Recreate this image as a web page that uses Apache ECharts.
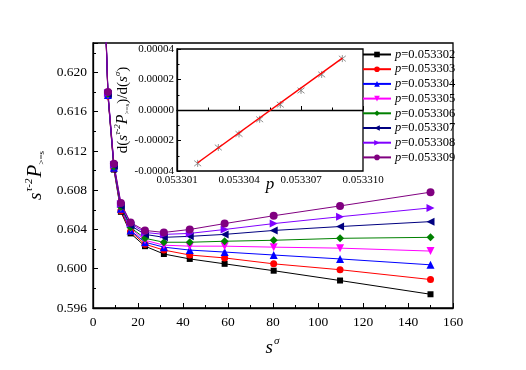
<!DOCTYPE html>
<html>
<head>
<meta charset="utf-8">
<script src="https://cdn.jsdelivr.net/npm/echarts@6/dist/echarts.min.js"></script>
<style>
  html, body { margin: 0; padding: 0; background: #fff; }
  #main { width: 526px; height: 370px; }
</style>
</head>
<body>
<div id="main"></div>
<script>
// s^sigma positions (first one is above the frame, gets clipped)
const sSigma = [4.9, 6.65, 9.3, 12.4, 16.7, 23.1, 31.5, 43.0, 58.5, 80.3, 109.8, 150.0]

// s^(tau-2) P(>=s) for each p
const y053302 = [0.6296, 0.6176, 0.6101, 0.6058, 0.6036, 0.6023, 0.6015, 0.6010, 0.6005, 0.5998, 0.5988, 0.5974]
const y053303 = [0.6297, 0.6176, 0.6102, 0.6059, 0.6038, 0.6025, 0.6019, 0.6014, 0.6011, 0.6005, 0.5999, 0.5989]
const y053304 = [0.6298, 0.6177, 0.6103, 0.6061, 0.6039, 0.6027, 0.6022, 0.6019, 0.6017, 0.6014, 0.6010, 0.6004]
const y053305 = [0.6298, 0.6177, 0.6104, 0.6062, 0.6041, 0.6029, 0.6024, 0.6023, 0.6023, 0.6022, 0.6021, 0.6018]
const y053306 = [0.6299, 0.6178, 0.6104, 0.6063, 0.6042, 0.6031, 0.6027, 0.6027, 0.6028, 0.6029, 0.6031, 0.6032]
const y053307 = [0.6300, 0.6178, 0.6105, 0.6064, 0.6044, 0.6035, 0.6032, 0.6033, 0.6035, 0.6039, 0.6043, 0.6048]
const y053308 = [0.6301, 0.6179, 0.6106, 0.6066, 0.6046, 0.6037, 0.6035, 0.6036, 0.6040, 0.6046, 0.6053, 0.6062]
const y053309 = [0.6302, 0.6180, 0.6107, 0.6067, 0.6047, 0.6039, 0.6037, 0.6040, 0.6046, 0.6054, 0.6064, 0.6078]

const pNames = ['p=0.053302', 'p=0.053303', 'p=0.053304', 'p=0.053305', 'p=0.053306', 'p=0.053307', 'p=0.053308', 'p=0.053309']

// inset: slope vs p
const insetP = [0.053302, 0.053303, 0.053304, 0.053305, 0.053306, 0.053307, 0.053308, 0.053309]
const insetSlope = [-0.0000350, -0.0000246, -0.0000157, -0.0000061, 0.0000035, 0.0000128, 0.0000233, 0.0000337]
// linear fit ends
const fitP = [0.053302, 0.053309]
const fitSlope = [-0.0000346, 0.0000340]

const serif = 'Liberation Serif, DejaVu Serif, serif'
const chart = echarts.init(document.getElementById('main'), null, { renderer: 'canvas' })

const styles = [
  { color: '#000000', symbol: 'rect', size: 6, rotate: 0 },
  { color: '#ff0000', symbol: 'circle', size: 7, rotate: 0 },
  { color: '#0000ff', symbol: 'triangle', size: 8, rotate: 0 },
  { color: '#ff00ff', symbol: 'triangle', size: 8, rotate: 180 },
  { color: '#008000', symbol: 'diamond', size: 8, rotate: 0 },
  { color: '#000080', symbol: 'triangle', size: 8, rotate: 90 },
  { color: '#8000ff', symbol: 'triangle', size: 8, rotate: -90 },
  { color: '#800080', symbol: 'circle', size: 8, rotate: 0 }
]
const allY = [y053302, y053303, y053304, y053305, y053306, y053307, y053308, y053309]

let series = allY.map((ys, k) => {
  let st = styles[k]
  return {
    name: pNames[k],
    type: 'line',
    xAxisIndex: 0,
    yAxisIndex: 0,
    data: sSigma.map((x, i) => [x, ys[i]]),
    symbol: st.symbol,
    symbolSize: st.size,
    symbolRotate: st.rotate,
    showAllSymbol: true,
    clip: true,
    itemStyle: { color: st.color },
    lineStyle: { color: st.color, width: 1 },
    z: 3
  }
})

series.push({
  type: 'scatter',
  xAxisIndex: 1,
  yAxisIndex: 1,
  data: insetP.map((p, i) => [p, insetSlope[i]]),
  symbol: 'path://M0,1L10,9M10,1L0,9M5,0L5,10',
  symbolSize: 7,
  itemStyle: { color: 'none', borderColor: '#777777', borderWidth: 1 },
  z: 5
})
series.push({
  type: 'line',
  xAxisIndex: 1,
  yAxisIndex: 1,
  data: fitP.map((p, i) => [p, fitSlope[i]]),
  symbol: 'none',
  lineStyle: { color: '#ff0000', width: 1.5 },
  z: 6
})

const nameRich = {
  s: { fontFamily: serif, fontStyle: 'italic', fontSize: 19, lineHeight: 24, verticalAlign: 'bottom' },
  P: { fontFamily: serif, fontStyle: 'italic', fontSize: 21, lineHeight: 24, verticalAlign: 'bottom' },
  sup: { fontFamily: serif, fontStyle: 'italic', fontSize: 11, lineHeight: 24, verticalAlign: 'top', padding: [2, 1, 0, 1] },
  sub: { fontFamily: serif, fontSize: 9, lineHeight: 24, verticalAlign: 'bottom', padding: [0, 0, 0, 0] }
}
const insetRich = {
  n: { fontFamily: serif, fontSize: 15, lineHeight: 18, verticalAlign: 'bottom' },
  s: { fontFamily: serif, fontStyle: 'italic', fontSize: 15, lineHeight: 18, verticalAlign: 'bottom' },
  P: { fontFamily: serif, fontStyle: 'italic', fontSize: 16, lineHeight: 18, verticalAlign: 'bottom' },
  sup: { fontFamily: serif, fontStyle: 'italic', fontSize: 9, lineHeight: 18, verticalAlign: 'top' },
  sub: { fontFamily: serif, fontSize: 7, lineHeight: 18, verticalAlign: 'bottom' }
}

const option = {
  backgroundColor: '#ffffff',
  animation: false,
  grid: [
    { left: 93, top: 43, width: 360, height: 265, show: true, borderColor: '#000', borderWidth: 1.3, backgroundColor: 'transparent' },
    { left: 177, top: 49, width: 186, height: 122, show: true, borderColor: '#000', borderWidth: 1.3, backgroundColor: '#ffffff', z: 4 }
  ],
  legend: {
    data: pNames,
    orient: 'vertical',
    left: 362,
    top: 48,
    padding: 0,
    itemWidth: 28,
    itemHeight: 7,
    itemGap: 1.7,
    formatter: name => '{i|p}{n|' + name.slice(1) + '}',
    textStyle: {
      fontFamily: serif,
      fontSize: 12,
      color: '#000',
      padding: [0, 0, 0, -1],
      rich: {
        i: { fontFamily: serif, fontStyle: 'italic', fontSize: 12.5, lineHeight: 13 },
        n: { fontFamily: serif, fontSize: 12.5, lineHeight: 13 }
      }
    }
  },
  xAxis: [
    {
      type: 'value',
      gridIndex: 0,
      min: 0,
      max: 160,
      interval: 20,
      name: '{s|s}{sup|σ}',
      nameLocation: 'middle',
      nameGap: 24,
      nameTextStyle: { rich: nameRich },
      axisLine: { lineStyle: { color: '#000', width: 1.3 } },
      axisTick: { inside: true, length: 5, lineStyle: { color: '#000' } },
      minorTick: { show: true, splitNumber: 2, length: 3, lineStyle: { color: '#000' } },
      splitLine: { show: false },
      axisLabel: { color: '#000', fontFamily: serif, fontSize: 13.5, margin: 7 }
    },
    {
      type: 'value',
      gridIndex: 1,
      min: 0.053301,
      max: 0.053310,
      interval: 0.000003,
      name: 'p',
      nameLocation: 'middle',
      nameGap: 5,
      nameMoveOverlap: false,
      nameTextStyle: { fontFamily: serif, fontStyle: 'italic', fontSize: 17, color: '#000' },
      axisLine: { onZero: true, lineStyle: { color: '#000', width: 1.3 } },
      axisTick: { inside: true, length: 4, lineStyle: { color: '#000' } },
      minorTick: { show: true, splitNumber: 2, length: 2.5, lineStyle: { color: '#000' } },
      splitLine: { show: false },
      axisLabel: {
        color: '#000', fontFamily: serif, fontSize: 11, margin: 4,
        showMinLabel: true, showMaxLabel: true,
        formatter: v => v.toFixed(6)
      },
      z: 5
    }
  ],
  yAxis: [
    {
      type: 'value',
      gridIndex: 0,
      min: 0.596,
      max: 0.623,
      interval: 0.004,
      name: '{s|s}{sup|τ-2}{P|P}{sub|>=s}',
      nameLocation: 'middle',
      nameRotate: 90,
      nameGap: 46,
      nameTextStyle: { rich: nameRich },
      axisLine: { lineStyle: { color: '#000', width: 1.3 } },
      axisTick: { inside: true, length: 5, lineStyle: { color: '#000' } },
      minorTick: { show: true, splitNumber: 2, length: 3, lineStyle: { color: '#000' } },
      splitLine: { show: false },
      axisLabel: {
        color: '#000', fontFamily: serif, fontSize: 13.5, margin: 6,
        showMaxLabel: false,
        formatter: v => v.toFixed(3)
      }
    },
    {
      type: 'value',
      gridIndex: 1,
      min: -0.00004,
      max: 0.00004,
      interval: 0.00002,
      name: '{n|d(}{s|s}{sup|τ-2}{P|P}{sub|>=s}{n|)/d(}{s|s}{sup|σ}{n|)}',
      nameLocation: 'middle',
      nameRotate: 90,
      nameGap: 35,
      nameTextStyle: { rich: insetRich },
      axisLine: { lineStyle: { color: '#000', width: 1.3 } },
      axisTick: { inside: true, length: 4, lineStyle: { color: '#000' } },
      minorTick: { show: true, splitNumber: 2, length: 2.5, lineStyle: { color: '#000' } },
      splitLine: { show: false },
      axisLabel: {
        color: '#000', fontFamily: serif, fontSize: 11, margin: 3,
        formatter: v => v.toFixed(5)
      },
      z: 5
    }
  ],
  series: series
}

chart.setOption(option)
</script>
</body>
</html>
